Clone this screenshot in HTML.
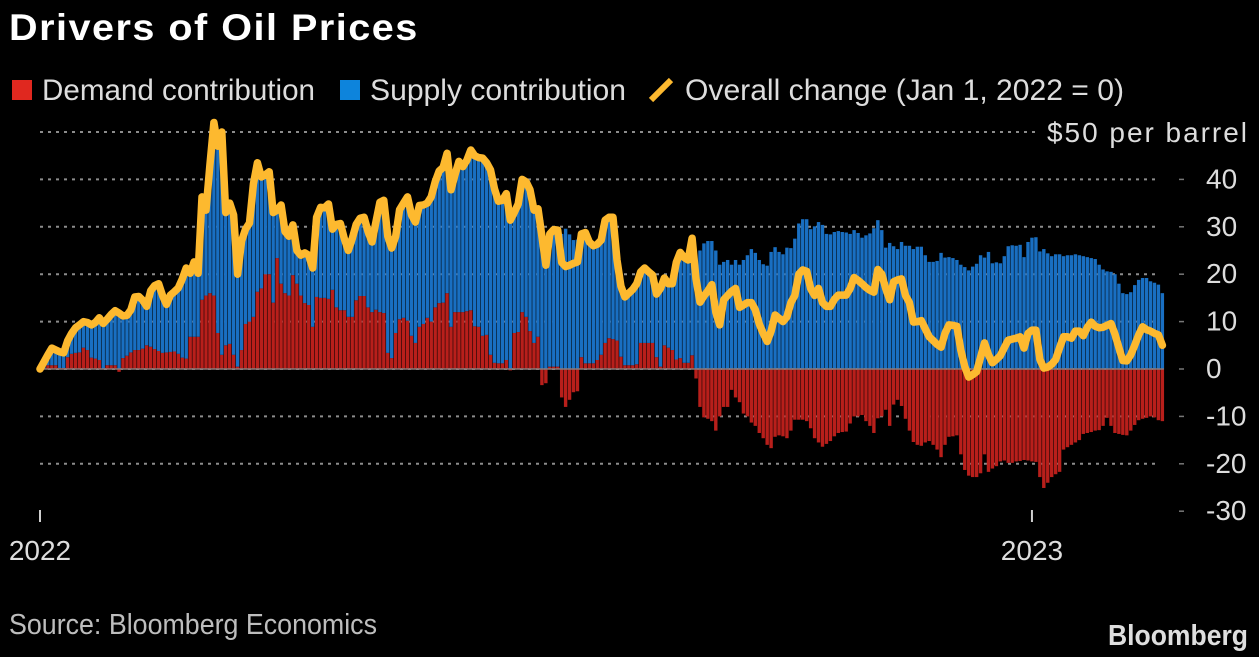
<!DOCTYPE html>
<html lang="en">
<head>
<meta charset="utf-8">
<title>Drivers of Oil Prices</title>
<style>
html,body{margin:0;padding:0;background:#000;width:1259px;height:657px;overflow:hidden}
svg{display:block}
text{font-family:"Liberation Sans",sans-serif}
</style>
</head>
<body>
<svg id="chart" xmlns="http://www.w3.org/2000/svg" width="1259" height="657" viewBox="0 0 1259 657">
  <rect x="0" y="0" width="1259" height="657" fill="#000"/>
  <text transform="translate(9,40) scale(1.07,1)" x="0" y="0" font-size="37" font-weight="700" fill="#fff" letter-spacing="1.4">Drivers of Oil Prices</text>

  <g>
    <g>
      <rect x="12" y="80" width="20" height="20" fill="#e0281f"/>
      <text x="42" y="100" font-size="30" fill="#ddd" textLength="273" lengthAdjust="spacingAndGlyphs">Demand contribution</text>
    </g>
    <g>
      <rect x="340" y="80" width="20" height="20" fill="#0d84dc"/>
      <text x="370" y="100" font-size="30" fill="#ddd" textLength="256" lengthAdjust="spacingAndGlyphs">Supply contribution</text>
    </g>
    <g>
      <line x1="651" y1="100" x2="671" y2="80" stroke="#fdb92f" stroke-width="6"/>
      <text x="685" y="100" font-size="30" fill="#ddd" textLength="439" lengthAdjust="spacingAndGlyphs">Overall change (Jan 1, 2022 = 0)</text>
    </g>
  </g>

  <g id="grid"></g>
  <g id="bars"></g>
  <line id="zero" stroke="#8a7a7a" stroke-width="1.5"/>
  <polyline id="overall-line" fill="none" stroke="#fdb92f" stroke-width="7.5" stroke-linejoin="round" stroke-linecap="round"/>
  <g id="yaxis"></g>
  <g id="xaxis"></g>

  <text x="9" y="634" font-size="29" fill="#bdbdbd" textLength="368" lengthAdjust="spacingAndGlyphs">Source: Bloomberg Economics</text>
  <text x="1108" y="645" font-size="29" font-weight="700" fill="#dedede" textLength="140" lengthAdjust="spacingAndGlyphs">Bloomberg</text>
</svg>

<script>
const demand = [
0,0,0.8,0.8,0.8,0.2,0.2,2.5,3.2,3.4,3.5,4.5,4,2.4,2.2,1.9,0,0.8,0.8,0.8,
-0.6,2.3,2.8,3.5,4,4,4.3,5,4.7,4.2,3.8,3.4,3.5,3.6,3.7,3.2,2.4,2.2,6.8,6.8,
6.8,14.6,15.5,16,15.5,7.6,3,5,5.3,3,0.5,4,9.5,10,11,16.3,17,20,20,14,
23.4,18,16,15.5,19.8,18,15.5,13.9,13.5,8.9,15.2,15,15,14.8,16.7,13,12.4,12.4,11,11,
14.5,15.4,15.4,13,12,12.5,12,11.8,3.4,2.3,7.6,10.5,10.8,10.2,7,5.5,8.9,9.5,10.8,10,
13,13.9,14,16,8.9,12,12,12,12.2,12.4,9,8.9,7,7.2,3,1.3,1.2,1.2,1.9,-0.3,
7.6,7.8,12,11,8,5.5,6.8,-3.4,-3,0.5,0.5,0.5,-6,-8,-6.5,-4.9,-4.7,2.5,1.2,1.2,
1.2,1.9,3,5.5,6.5,6.3,6,2.6,0.8,0.8,0.8,1,5.5,5.5,5.5,5.5,2.5,0.5,5,4.5,
4,2,2.3,1.3,1.3,2.9,-2,-8,-10.2,-10.5,-11,-13,-10,-8,-8,-4.4,-6,-7,-9.4,-10,
-11.3,-12,-13.5,-14.6,-16,-16.7,-14.3,-14,-14.2,-14.6,-13,-10.7,-10.7,-10.7,-11,-12.5,-14.6,-15.5,-16.4,-15.8,
-15.2,-14.2,-13.5,-13.3,-13.2,-11.5,-10,-10,-9.7,-11,-12,-13.5,-10.4,-10,-8.6,-12,-7.5,-6.5,-7.8,-10.5,
-13,-15.4,-16,-16.2,-15.5,-15.2,-16,-17,-18.6,-16,-14.3,-14.2,-14,-18,-21.3,-22.5,-22.8,-22.8,-22,-18,
-21.7,-21,-20.5,-19.5,-19.3,-19.8,-19.8,-19.5,-19.4,-19.2,-19.3,-19.5,-19.6,-22.8,-25.1,-24,-22.8,-22.2,-21.7,-17,
-16.5,-16,-15.5,-15,-13.7,-13.5,-13.3,-13,-12.9,-12,-10.3,-12,-13.5,-13.7,-13.9,-14,-13,-11.8,-10.8,-10.5,
-10.3,-10,-10.2,-10.8,-11
];
const supply = [
0,1.5,2.2,3.6,3.2,3.4,3.2,3.5,4.3,5.3,5.8,5.5,5.8,6.9,7.6,8.9,9.6,9.7,10.7,11.5,
12.4,8.9,8.5,9,11.2,11.3,10.2,8.2,11.8,13.4,14.2,12.1,10.1,12,12.6,13.9,16.6,19.1,13.4,15.8,
13.4,21.7,18,27,36.5,39.4,47,28,29.7,29.5,19.5,23,20,20.8,28,27.2,23.5,21,21.6,19,
10.1,16.6,13,12.5,10.6,7,8.5,10.6,10.5,12.4,16.8,19.1,19,20,12.8,17.5,18.3,15.1,14,16.5,
16,16.4,16.6,16,14.8,18.5,23.2,23.8,24.6,23.2,20.4,23.1,24.2,26.1,25.5,25.5,25.6,25.1,24.2,26.3,
26.5,27.9,28.5,29.5,28.9,29,31.8,30.7,31.8,33.8,36,35.7,37.5,36.3,39,36.7,34.2,34.4,35.1,31.7,
25.4,27,28,28.5,29.8,28,27,31.4,24.9,28,28.9,28.8,28.5,29.6,28.4,27.2,27.3,26,27.6,25.6,
24.8,24.4,24.2,25.9,25.5,25.7,17,14.9,14.4,15.2,16,17,15,15.8,15,14.3,13.3,16.5,14.2,13.5,
14,20.5,22.3,22.2,21.7,24.7,21,25,26.5,27,27,25,22,22.6,23,22,23,22,23,24,
25.3,24.5,23,22.1,21.8,24.7,25.7,24.7,24.2,25.6,25.5,27.5,30.7,31.6,31.6,29.5,30.1,31,30.4,28.5,
28.4,28.9,29.1,28.9,28.8,28.5,29.3,28.7,27.7,28.2,28.6,29.7,31.4,29.3,25.6,26.6,25.9,25.3,26.8,26,
26,25.3,25.8,25.8,24,22.6,22.6,22.8,24.5,23.5,23.6,23.4,23,22,21.5,20.8,21.6,22.2,24,23.5,
24.7,22.3,22.5,22.3,23.8,25.9,26.1,26,26.2,23.6,26.8,27.7,27.8,24.8,25.3,24.4,23.8,24.2,24.2,23.8,
24,24,24.2,24,23.8,23.6,23.4,23.2,22,21,20.6,20.5,20,18,16,15.8,16.2,17.7,18.8,19.2,
19.2,18.5,18.2,17.8,16
];
const overall = [
0,1.5,3,4.4,4,3.6,3.4,6,7.5,8.7,9.3,10,9.8,9.3,9.8,10.8,9.6,10.5,11.5,12.3,
11.8,11.2,11.3,12.5,15.2,15.3,14.5,13.2,16.5,17.6,18,15.5,13.6,15.6,16.3,17.1,19,21.3,20.2,22.6,
20.2,36.3,33.5,43,52,47,50,33,35,32.5,20,27,29.5,30.8,39,43.5,40.5,41,41.6,33,
33.5,34.6,29,28,30.4,25,24,24.5,24,21.3,32,34.1,34,34.8,29.5,30.5,30.7,27.5,25,27.5,
30.5,31.8,32,29,26.8,31,35.2,35.6,28,25.5,28,33.6,35,36.3,32.5,31,34.5,34.6,35,36.3,
39.5,41.8,42.5,45.5,37.8,41,43.8,42.7,44,46.2,45,44.6,44.5,43.5,42,38,35.4,35.6,37,31.4,
33,34.8,40,39.5,37.8,33.5,33.8,28,21.9,28.5,29.4,29.3,22.5,21.6,21.9,22.3,22.6,28.5,28.8,26.8,
26,26.3,27.2,31.4,32,32,23,17.5,15.2,16,16.8,18,20.5,21.3,20.5,19.8,15.8,17,19.2,18,
18,22.5,24.6,23.5,23,27.6,19,14.1,15.4,16.5,17.8,12,9.3,14.6,15.5,16.4,17,13,13.5,14,
14,12.5,9.5,7.5,5.8,8,11.4,10.7,10,11,14,15.5,20,20.9,20.6,17,15.5,17,14,13.2,
13.2,14.7,15.6,15.6,15.6,17,19.3,18.7,18,17.2,16.6,16.2,21,20,17,14.6,18.4,18.8,19,15.5,
14,9.9,10,10.2,8.5,6.8,6,5.2,4.6,7.5,9.3,9.2,9,4,0.5,-1.7,-1.2,-0.6,2.5,5.5,
3,1.3,2,2.8,4.5,6.1,6.3,6.5,6.8,4.4,7.5,8.2,8.2,2,0.2,0.4,1,2,4.5,6.8,
6.8,6.5,8,8,7,8.8,9.9,9,8.7,8.8,9.2,9.6,7.4,4.5,1.8,1.7,3,5,7.2,8.9,
8.3,8,7.5,7.2,5
];
const yTickValues = [50,40,30,20,10,0,-10,-20,-30];
const yTickLabels = ["$50 per barrel","40","30","20","10","0","-10","-20","-30"];
const xTickIndexes = [0,251];
const xTickLabels = ["2022","2023"];

const NS = "http://www.w3.org/2000/svg";
const xScale = i => 40 + i * 3.952;
const yScale = v => 369 - v * 4.74;

function make(tag, attrs, parent) {
  const el = document.createElementNS(NS, tag);
  for (const k in attrs) el.setAttribute(k, attrs[k]);
  parent.appendChild(el);
  return el;
}

const grid = document.getElementById("grid");
const yaxis = document.getElementById("yaxis");
const lowest = yTickValues.length - 1;
yTickValues.forEach((v, i) => {
  const y = yScale(v);
  const isTop = i === 0;
  if (i !== lowest) {
    const line = make("line", {x1: 40, x2: isTop ? 1036 : 1160, y1: y, y2: y, stroke: "#8c8c8c", "stroke-width": 2, "stroke-dasharray": "3 5"}, grid);
    
    
  }
  if (!isTop) {
    const tick = make("line", {x1: 1179, x2: 1184, y1: y, y2: y, stroke: "#777", "stroke-width": 1.5}, yaxis);
    
    
  }
  const label = make("text", {x: isTop ? 1047 : 1206, y: y + (isTop ? 10 : 9), "font-size": 28, fill: "#ddd"}, yaxis);
  if (isTop) {
    label.setAttribute("textLength", 200);
    label.setAttribute("lengthAdjust", "spacing");
  }
  
  
  label.textContent = yTickLabels[i];
});

const bars = document.getElementById("bars");
const BAR_W = 3.4;
overall.forEach((_, i) => {
  const x = xScale(i) - BAR_W / 2;
  const d = demand[i];
  const s = supply[i];
  const red = make("rect", {
    x: x, width: BAR_W,
    y: Math.min(yScale(d), yScale(0)),
    height: Math.abs(yScale(d) - yScale(0)),
    fill: "#b81f1b"
  }, bars);
  
  
  const base = d > 0 ? d : 0;
  const blue = make("rect", {
    x: x, width: BAR_W,
    y: yScale(base + s),
    height: Math.abs(yScale(base + s) - yScale(base)),
    fill: "#196fc2"
  }, bars);
  
  
});

const zero = document.getElementById("zero");
zero.setAttribute("x1", xScale(0));
zero.setAttribute("x2", xScale(overall.length - 1) + 1.5);
zero.setAttribute("y1", yScale(0));
zero.setAttribute("y2", yScale(0));

document.getElementById("overall-line").setAttribute("points",
  overall.map((v, i) => xScale(i).toFixed(1) + "," + yScale(v).toFixed(1)).join(" "));

const xaxis = document.getElementById("xaxis");
xTickIndexes.forEach((idx, i) => {
  const x = xScale(idx);
  const tick = make("line", {x1: x, x2: x, y1: 510, y2: 522, stroke: "#cfcfcf", "stroke-width": 2}, xaxis);
  
  
  const label = make("text", {x: x, y: 560, "font-size": 28, fill: "#ddd", "text-anchor": "middle"}, xaxis);
  
  
  label.textContent = xTickLabels[i];
});
</script>
</body>
</html>
